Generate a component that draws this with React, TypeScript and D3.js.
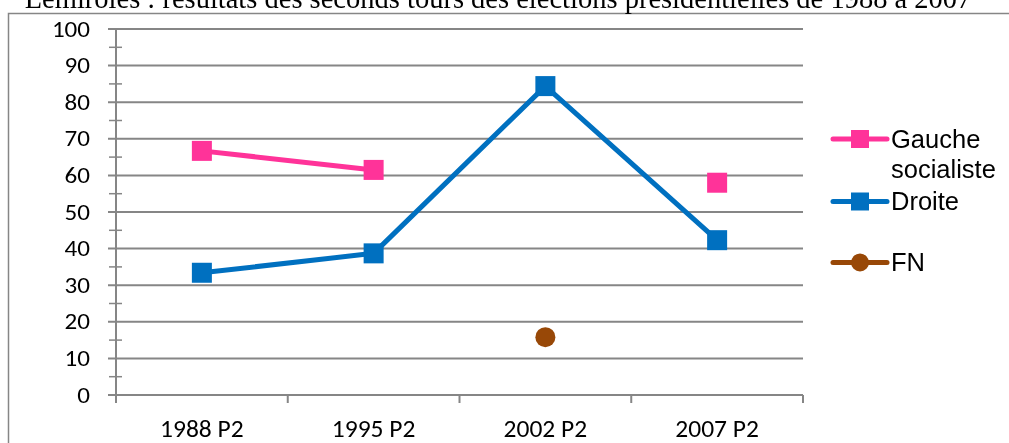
import React, { useRef, useEffect } from "react";
import * as d3 from "d3";

const categories = ["1988 P2", "1995 P2", "2002 P2", "2007 P2"];
const gauche: (number | null)[] = [66.7, 61.5, null, 58.0];
const droite: (number | null)[] = [33.4, 38.7, 84.4, 42.3];
const fn: (number | null)[] = [null, null, 15.8, null];
const yTicks = [0, 10, 20, 30, 40, 50, 60, 70, 80, 90, 100];
const title =
  "Lemiroles : résultats des seconds tours des élections présidentielles de 1988 à 2007";

const series = [
  { name: ["Gauche", "socialiste"], values: gauche, color: "#FF3399", marker: "square" },
  { name: ["Droite"], values: droite, color: "#0070C0", marker: "square" },
  { name: ["FN"], values: fn, color: "#984807", marker: "circle" },
];

const App = () => {
  const ref = useRef<SVGSVGElement>(null);

  useEffect(() => {
    const svg = d3.select(ref.current);
    svg.selectAll("*").remove();

    const width = 1009;
    const height = 443;
    const left = 116;
    const right = 803;
    const top = 29;
    const bottom = 395;
    const axisColor = "#868686";
    const labelFont = "Carlito, 'Open Sans', sans-serif";

    svg.attr("width", width).attr("height", height);

    // frame + title (the title sits partly above the top edge, as in the source)
    svg
      .append("rect")
      .attr("x", 8.5)
      .attr("y", 13.5)
      .attr("width", 1020)
      .attr("height", 460)
      .attr("fill", "white")
      .attr("stroke", axisColor)
      .attr("stroke-width", 1.5);

    svg
      .append("text")
      .attr("x", 498)
      .attr("y", 8)
      .attr("text-anchor", "middle")
      .attr("font-family", "'Liberation Serif', serif")
      .attr("font-size", 28.5)
      .attr("fill", "#000")
      .text(title);

    const x = d3.scaleBand().domain(categories).range([left, right]);
    const y = d3.scaleLinear().domain([0, 100]).range([bottom, top]);
    const cx = (i: number) => (x(categories[i]) as number) + x.bandwidth() / 2;

    // gridlines + y labels
    const grid = svg.append("g");
    grid
      .selectAll("line")
      .data(yTicks)
      .join("line")
      .attr("x1", left - 8)
      .attr("x2", right)
      .attr("y1", (d) => y(d))
      .attr("y2", (d) => y(d))
      .attr("stroke", axisColor)
      .attr("stroke-width", 2);

    grid
      .selectAll("line.minor")
      .data(d3.range(5, 100, 10))
      .join("line")
      .attr("class", "minor")
      .attr("x1", left - 7)
      .attr("x2", left + 6)
      .attr("y1", (d) => y(d))
      .attr("y2", (d) => y(d))
      .attr("stroke", axisColor)
      .attr("stroke-width", 1.5);

    grid
      .selectAll("text")
      .data(yTicks)
      .join("text")
      .attr("transform", (d) => `translate(90,${y(d) + 7.5}) scale(1.14,1)`)
      .attr("text-anchor", "end")
      .attr("font-family", labelFont)
      .attr("font-size", 22)
      .attr("fill", "#000")
      .text((d) => d);

    // axes lines
    svg
      .append("line")
      .attr("x1", left)
      .attr("x2", left)
      .attr("y1", top)
      .attr("y2", bottom + 8)
      .attr("stroke", axisColor)
      .attr("stroke-width", 2);

    svg
      .append("g")
      .selectAll("line")
      .data(d3.range(categories.length + 1))
      .join("line")
      .attr("x1", (i) => left + i * x.bandwidth())
      .attr("x2", (i) => left + i * x.bandwidth())
      .attr("y1", bottom)
      .attr("y2", bottom + 8)
      .attr("stroke", axisColor)
      .attr("stroke-width", 2);

    svg
      .append("g")
      .selectAll("text")
      .data(categories)
      .join("text")
      .attr("x", (d, i) => cx(i))
      .attr("y", 437)
      .attr("text-anchor", "middle")
      .attr("font-family", labelFont)
      .attr("font-size", 25.5)
      .attr("fill", "#000")
      .text((d) => d);

    // series
    const line = d3
      .line<number | null>()
      .defined((d) => d !== null)
      .x((d, i) => cx(i))
      .y((d) => y(d as number));

    series.forEach((s) => {
      const g = svg.append("g");
      g.append("path")
        .attr("d", line(s.values))
        .attr("fill", "none")
        .attr("stroke", s.color)
        .attr("stroke-width", 5)
        .attr("stroke-linejoin", "round");

      const pts = s.values
        .map((v, i) => ({ v, i }))
        .filter((p) => p.v !== null);
      if (s.marker === "square") {
        g.selectAll("rect")
          .data(pts)
          .join("rect")
          .attr("x", (p) => cx(p.i) - 10)
          .attr("y", (p) => y(p.v as number) - 10)
          .attr("width", 20)
          .attr("height", 20)
          .attr("fill", s.color);
      } else {
        g.selectAll("circle")
          .data(pts)
          .join("circle")
          .attr("cx", (p) => cx(p.i))
          .attr("cy", (p) => y(p.v as number))
          .attr("r", 10)
          .attr("fill", s.color);
      }
    });

    // legend
    const legendY = [139, 201.5, 262.5];
    const legendFont = "'Liberation Sans', Arial, sans-serif";
    series.forEach((s, k) => {
      const ly = legendY[k];
      const g = svg.append("g");
      g.append("line")
        .attr("x1", 833)
        .attr("x2", 887)
        .attr("y1", ly)
        .attr("y2", ly)
        .attr("stroke", s.color)
        .attr("stroke-width", 5)
        .attr("stroke-linecap", "round");
      if (s.marker === "square") {
        g.append("rect")
          .attr("x", 860 - 9)
          .attr("y", ly - 9)
          .attr("width", 18)
          .attr("height", 18)
          .attr("fill", s.color);
      } else {
        g.append("circle").attr("cx", 860).attr("cy", ly).attr("r", 9).attr("fill", s.color);
      }
      g.selectAll("text")
        .data(s.name)
        .join("text")
        .attr("x", 891)
        .attr("y", (d, j) => ly + 8.5 + j * 30.5)
        .attr("font-family", legendFont)
        .attr("font-size", 25.5)
        .attr("fill", "#000")
        .text((d) => d);
    });
  }, []);

  return (
    <div style={{ position: "fixed", left: 0, top: 0, width: 1009, height: 443, overflow: "hidden" }}>
      <svg ref={ref} style={{ display: "block" }}></svg>
    </div>
  );
};

export default App;
